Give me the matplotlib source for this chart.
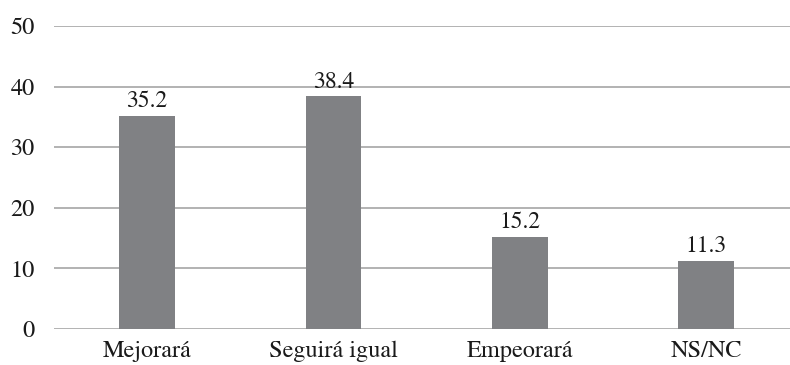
import os
import matplotlib
matplotlib.use("Agg")
import matplotlib.pyplot as plt
from matplotlib import font_manager

categories = ["Mejorará", "Seguirá igual", "Empeorará", "NS/NC"]
values = [35.2, 38.4, 15.2, 11.3]
yticks = [0, 10, 20, 30, 40, 50]

# Times-like serif shipped with matplotlib
stix_path = os.path.join(matplotlib.get_data_path(), "fonts", "ttf", "STIXGeneral.ttf")
if os.path.exists(stix_path):
    font_manager.fontManager.addfont(stix_path)
plt.rcParams["font.family"] = ["STIXGeneral", "Liberation Serif", "DejaVu Serif"]

fig = plt.figure(figsize=(7.9, 3.65), dpi=100)
ax = fig.add_axes([54 / 790, 36 / 365, (790 - 54) / 790, (329 - 26) / 365])

x = list(range(len(categories)))
bars = ax.bar(x, values, width=0.30, color="#808184", zorder=3)
for b, v in zip(bars, values):
    ax.text(b.get_x() + b.get_width() / 2, v + 0.6, f"{v:.1f}",
            ha="center", va="bottom", fontsize=17, color="#1a1a1a")

ax.set_xlim(-0.5, 3.45)
ax.set_ylim(0, 50)
ax.set_yticks(yticks)
ax.set_xticks(x)
ax.set_xticklabels(categories)
ax.yaxis.grid(True, color="#a6a6a6", linewidth=1.2, zorder=0)
for s in ax.spines.values():
    s.set_visible(False)
ax.tick_params(axis="both", length=0, labelsize=17.5, colors="#1a1a1a")
ax.tick_params(axis="y", pad=14)
ax.tick_params(axis="x", pad=8)

fig.savefig("out.png", dpi=100)
